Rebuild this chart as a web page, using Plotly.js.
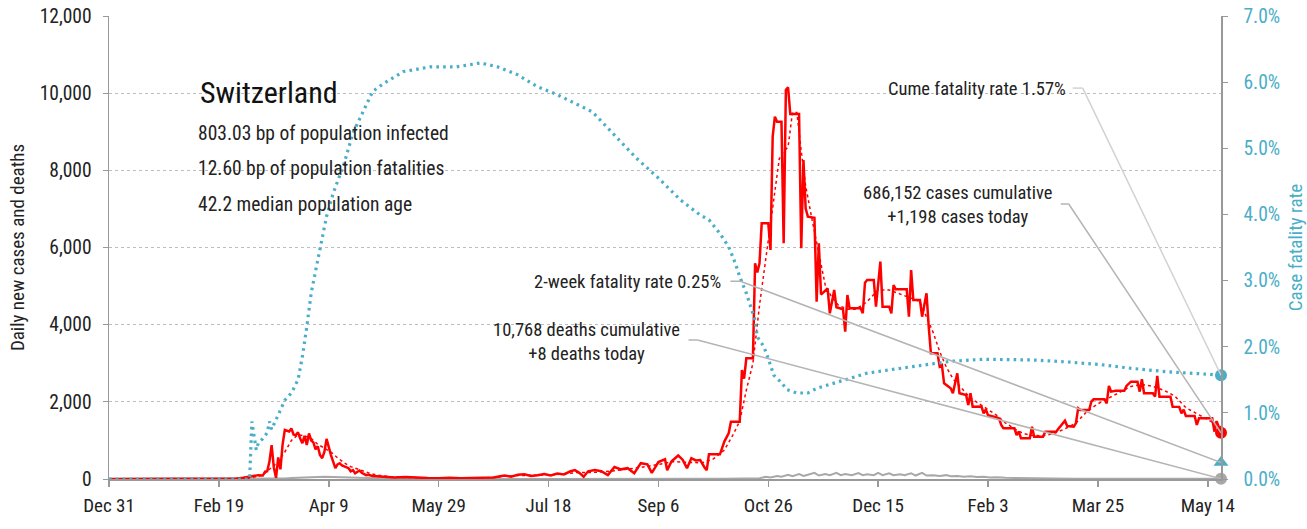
<!DOCTYPE html>
<html>
<head>
<meta charset="utf-8">
<script src="https://cdn.plot.ly/plotly-3.0.1.min.js"></script>
<style>
html,body{margin:0;padding:0;background:#fff;}
#chart{width:1307px;height:529px;}
</style>
</head>
<body>
<div id="chart"></div>
<script>
// ---- Data (day offsets from 2019-12-31) ----
const caseDays = [0,55,58,61,65,68,70,71,72,73,74,75,76,77,78,79,80,81,82,83,84,85,86,87,88,89,90,91,92,93,94,95,96,97,98,99,100,101,102,103,104,105,106,107,108,109,110,111,112,113,114,115,116,117,118,120,125,130,135,140,145,150,155,160,165,170,175,178,180,183,186,189,192,195,198,201,204,207,210,212,214,216,218,221,224,227,230,233,236,239,242,245,247,250,253,254,256,259,261,263,265,267,269,271,272,273,278,280,282,283,287,288,289,290,293,294,295,296,297,300,301,302,303,304,306,307,308,309,310,314,315,316,317,318,321,322,323,324,327,328,330,331,334,335,336,337,342,343,344,345,348,349,351,352,355,356,357,358,363,364,365,366,369,370,372,373,374,377,378,379,380,383,384,386,387,390,391,392,393,397,398,399,400,404,405,406,407,412,413,414,415,419,420,421,425,426,431,432,435,436,439,440,441,442,446,447,448,453,454,455,456,458,462,463,465,468,469,470,471,475,476,477,478,483,484,487,488,489,490,494,495,496,502,503,504,506];
const caseVals = [0,0,10,30,60,100,90,190,200,450,880,300,30,560,250,900,1270,1250,1230,1310,1150,1140,1210,1050,930,1120,880,1180,1000,950,770,850,620,540,700,1040,800,620,450,280,380,410,350,320,300,280,200,230,150,180,220,160,130,100,110,80,60,40,50,30,25,20,30,20,25,35,40,70,90,60,110,120,80,100,130,90,140,120,200,230,160,60,200,230,200,100,310,250,280,150,410,380,160,440,510,230,460,610,500,280,540,480,490,300,230,640,640,970,1190,1486,1486,2825,2600,3128,3128,5590,5350,5590,6627,6627,5935,8873,9390,9260,9260,6108,10083,10153,9461,9461,5980,8268,7016,6800,6770,4597,6108,4780,4943,4295,4900,4450,4400,3818,4769,4424,4424,4295,5089,5158,5158,4467,5633,4467,4467,4295,5028,4916,4916,4207,5417,4640,4640,4207,4813,3948,3258,3258,2911,2950,2480,2350,2221,2740,2221,2178,1918,2221,1875,1880,1703,1806,1650,1598,1572,1400,1313,1313,1140,1230,1054,1054,1356,1097,1097,1227,1227,1300,1512,1373,1356,1450,1832,1788,1788,2004,2065,2065,1961,2411,2264,2289,2289,2411,2523,2523,2264,2584,2221,2221,2134,2670,2134,2134,1875,1870,1703,1800,1633,1633,1400,1572,1572,1227,1500,1198];

const caseAvgDays = [0,62,66,70,74,77,80,83,86,89,92,95,98,101,104,107,110,114,118,122,128,135,145,155,165,175,180,186,195,205,213,220,228,235,242,250,257,263,270,275,280,284,287,290,293,296,299,302,305,307,309,311,313,315,317,320,323,326,329,332,336,340,345,350,355,360,365,369,372,375,378,381,384,388,392,396,400,404,408,412,416,420,425,430,435,440,445,450,455,460,465,470,475,480,485,490,495,500,506];
const caseAvgVals = [0,0,50,100,300,450,700,1000,1150,1120,1050,900,800,700,550,420,320,230,160,100,60,40,25,22,25,40,70,90,100,120,170,170,200,250,300,380,450,430,420,520,750,1150,1500,2300,3000,4500,5800,7000,8300,8500,8600,9500,9500,8500,7600,6700,5800,5000,4700,4500,4400,4400,4600,4900,4900,4800,4700,4600,4200,3800,3300,2900,2600,2350,2100,1950,1800,1650,1450,1300,1180,1130,1120,1180,1300,1450,1750,1950,2100,2250,2400,2450,2400,2300,2150,1850,1700,1550,1350];

const deathDays = [0,64,70,75,78,80,83,86,89,92,95,98,101,104,107,110,113,116,120,125,130,140,150,170,200,230,260,270,280,285,290,293,296,299,301,304,306,309,311,314,316,318,321,323,326,328,331,333,335,338,341,343,345,348,350,352,355,357,360,362,365,367,370,372,375,378,381,383,386,389,392,395,398,401,404,408,412,420,430,440,450,460,470,480,490,500,506];
const deathVals = [0,0,1,3,8,15,25,35,50,60,55,60,55,45,40,30,25,20,12,8,5,2,1,0,1,1,2,4,8,10,15,30,20,60,40,80,60,110,70,130,80,110,160,90,130,100,160,100,130,100,155,100,120,100,160,100,150,100,120,100,150,90,160,90,100,80,100,70,80,60,70,50,60,40,45,30,25,15,10,8,6,8,5,6,5,4,8];

const cfrDays = [0,64,65,66,67,68,70,72,73,74,75,77,80,83,86,88,90,92,95,97,99,102,107,111,116,120,125,134,146,158,169,177,186,195,204,220,230,240,250,260,269,273,278,282,285,287,290,292,294,295,298,300,302.5,305.6,308.6,313,318,322,330,337,345,353,368,383,398,413,420,436,451,466,482,497,506];
const cfrVals = [0,0,0.87,0.66,0.44,0.55,0.61,0.7,0.87,0.75,0.83,0.97,1.19,1.30,1.50,1.85,2.30,2.81,3.31,3.66,3.97,4.32,4.77,5.23,5.58,5.86,5.98,6.16,6.23,6.23,6.29,6.23,6.11,5.93,5.81,5.55,5.2,4.85,4.55,4.22,3.99,3.92,3.71,3.51,3.26,3.06,2.81,2.60,2.40,2.15,2.0,1.82,1.57,1.47,1.35,1.30,1.30,1.37,1.45,1.52,1.60,1.64,1.71,1.78,1.81,1.81,1.80,1.77,1.73,1.67,1.62,1.59,1.57];

// Latest values
const lastDay = 506;
const lastCases = 1198;
const lastDeaths = 8;
const cumeCFR = 1.57;
const twoWeekCFR = 0.25;

const infoLines = ["803.03 bp of population infected","12.60 bp of population fatalities","42.2 median population age"];
const country = "Switzerland";

// ---- helpers ----
const BASE = Date.UTC(2019,11,31);
function dt(d){ return new Date(BASE + Math.round(d*24)*3600000).toISOString().slice(0,19).replace('T',' '); }
const X = a => a.map(dt);

const BLUE = '#4aaec8', RED = '#ff0000', GRAY = '#a8a8a8';
const FONT = '"Liberation Sans Narrow", "Roboto Condensed", "DejaVu Sans Condensed", sans-serif';

const traces = [
  {x:X(deathDays), y:deathVals, mode:'lines', line:{color:GRAY, width:2}, hoverinfo:'skip'},
  {x:X(caseAvgDays), y:caseAvgVals, mode:'lines', line:{color:RED, width:1.5, dash:'dot'}, hoverinfo:'skip'},
  {x:X(caseDays), y:caseVals, mode:'lines', line:{color:RED, width:2.5}, hoverinfo:'skip'},
  {x:X(cfrDays), y:cfrVals, yaxis:'y2', mode:'lines', line:{color:BLUE, width:3.2, dash:'2.6px,4.2px'}, hoverinfo:'skip'},
  {x:[dt(lastDay)], y:[cumeCFR], yaxis:'y2', mode:'markers', marker:{color:BLUE, size:12, symbol:'circle'}, cliponaxis:false},
  {x:[dt(lastDay)], y:[twoWeekCFR], yaxis:'y2', mode:'markers', marker:{color:BLUE, size:13, symbol:'triangle-up'}, cliponaxis:false},
  {x:[dt(lastDay)], y:[lastCases], mode:'markers', marker:{color:RED, size:12, symbol:'circle'}, cliponaxis:false},
  {x:[dt(lastDay)], y:[lastDeaths], mode:'markers', marker:{color:GRAY, size:12, symbol:'circle'}, cliponaxis:false}
];

const TXT = '#222';
const annotations = [
  {x:dt(40.5), y:10020, xref:'x', yref:'y', text:country, showarrow:false, xanchor:'left', yanchor:'middle', font:{size:30, color:'#111', family:FONT}},
  ...infoLines.map((t,i)=>({x:dt(39.5), y:8960 - i*925, xref:'x', yref:'y', text:t, showarrow:false, xanchor:'left', yanchor:'middle', font:{size:19.5, color:TXT, family:FONT}})),
  {x:dt(436.2), y:10110, xref:'x', yref:'y', text:'Cume fatality rate 1.57%', showarrow:false, xanchor:'right', yanchor:'middle', font:{size:18.5, color:TXT, family:FONT}},
  {x:dt(386.4), y:7100, xref:'x', yref:'y', text:'686,152 cases cumulative<br>+1,198 cases today', showarrow:false, xanchor:'center', yanchor:'middle', align:'center', font:{size:18.5, color:TXT, family:FONT}},
  {x:dt(279.6), y:5115, xref:'x', yref:'y', text:'2-week fatality rate 0.25%', showarrow:false, xanchor:'right', yanchor:'middle', font:{size:18.5, color:TXT, family:FONT}},
  {x:dt(217.2), y:3560, xref:'x', yref:'y', text:'10,768 deaths cumulative<br>+8 deaths today', showarrow:false, xanchor:'center', yanchor:'middle', align:'center', font:{size:18.5, color:TXT, family:FONT}}
];

const LC1 = '#d2d2d2', LC = '#b4b4b4';
const shapes = [
  {type:'line', xref:'x', yref:'y2', x0:dt(438.5), x1:dt(443.1), y0:5.91, y1:5.91, line:{color:LC1, width:1.5}},
  {type:'line', xref:'x', yref:'y2', x0:dt(443.1), x1:dt(lastDay), y0:5.91, y1:cumeCFR, line:{color:LC1, width:1.5}},
  {type:'line', xref:'x', yref:'y', x0:dt(433.1), x1:dt(436.7), y0:7128, y1:7128, line:{color:LC, width:1.5}},
  {type:'line', xref:'x', yref:'y', x0:dt(436.7), x1:dt(lastDay), y0:7128, y1:lastCases, line:{color:LC, width:1.5}},
  {type:'line', xref:'x', yref:'y2', x0:dt(282.8), x1:dt(287.3), y0:2.99, y1:2.99, line:{color:LC, width:1.5}},
  {type:'line', xref:'x', yref:'y2', x0:dt(287.3), x1:dt(lastDay), y0:2.99, y1:twoWeekCFR, line:{color:LC, width:1.5}},
  {type:'line', xref:'x', yref:'y', x0:dt(263.7), x1:dt(267.8), y0:3603, y1:3603, line:{color:LC, width:1.5}},
  {type:'line', xref:'x', yref:'y', x0:dt(267.8), x1:dt(lastDay), y0:3603, y1:lastDeaths, line:{color:LC, width:1.5}}
];

const layout = {
  width:1307, height:529,
  margin:{l:109, r:86, t:16, b:50},
  paper_bgcolor:'#fff', plot_bgcolor:'#fff',
  showlegend:false,
  font:{family:FONT, size:19, color:'#333'},
  xaxis:{
    type:'date', range:[dt(0), dt(lastDay)],
    tick0:dt(0), dtick:50*86400000, tickformat:'%b %-d',
    ticks:'outside', ticklen:6, tickcolor:'#999', tickwidth:1.5,
    showline:true, linecolor:'#999', linewidth:2,
    showgrid:false, zeroline:false, ticklabelstandoff:2,
    tickfont:{size:19, color:'#222', family:FONT}
  },
  yaxis:{
    range:[0,12000], dtick:2000, tickformat:',d',
    ticks:'outside', ticklen:5, tickcolor:'#999',
    showline:true, linecolor:'#999', linewidth:1.5,
    showgrid:true, gridcolor:'#bdbdbd', griddash:'dot', gridwidth:1,
    zeroline:false, ticklabelstandoff:7,
    tickfont:{size:19.5, color:'#222', family:FONT},
    title:{text:'Daily new cases and deaths', font:{size:19, color:'#222', family:FONT}, standoff:10}
  },
  yaxis2:{
    overlaying:'y', side:'right', range:[0,7], dtick:1, tickformat:'.1f', ticksuffix:'%',
    ticks:'outside', ticklen:5, tickcolor:'#999',
    showline:true, linecolor:'#999', linewidth:1.5,
    showgrid:false, zeroline:false, ticklabelstandoff:12,
    tickfont:{size:19.5, color:BLUE, family:FONT},
    title:{text:'Case fatality rate', font:{size:19, color:BLUE, family:FONT}, standoff:10}
  },
  annotations, shapes
};

Plotly.newPlot('chart', traces, layout, {staticPlot:true, displayModeBar:false});
</script>
</body>
</html>
